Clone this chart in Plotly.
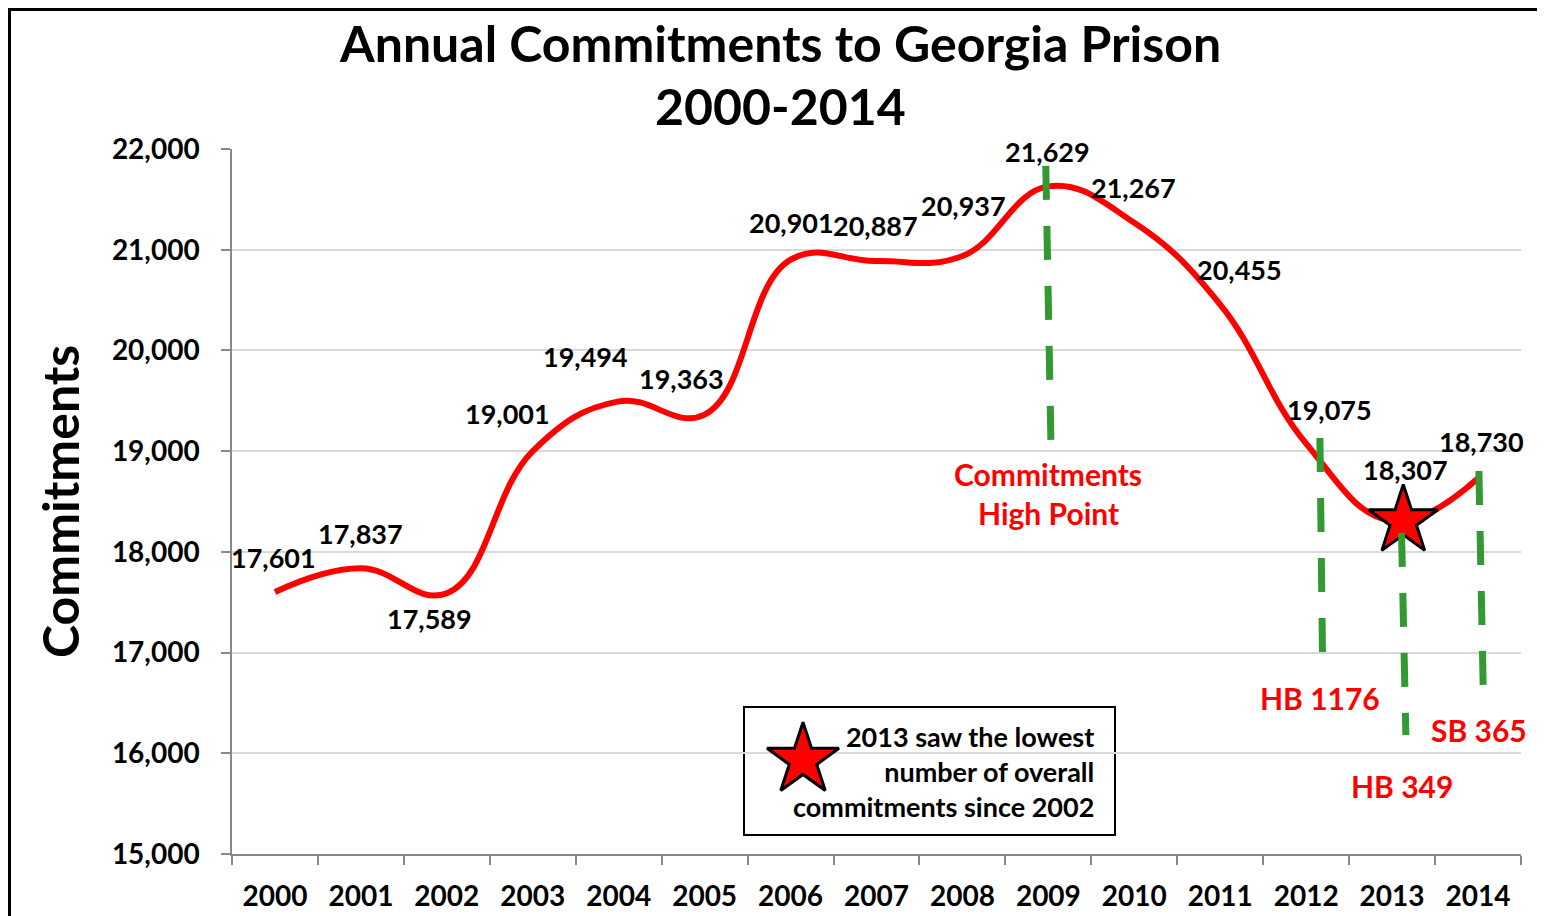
import plotly.graph_objects as go

# ---- data ----
years = [str(y) for y in range(2000, 2015)]
commitments = [17601, 17837, 17589, 19001, 19494, 19363, 20901, 20887,
               20937, 21629, 21267, 20455, 19075, 18307, 18730]
y_ticks = [15000, 16000, 17000, 18000, 19000, 20000, 21000, 22000]

# data-label offsets in pixels (dx, dy)
label_dx = [-1, 0, -17, -25, -33, -23, 1, -1, 1, -1, -1, 19, 23, 13, 3]
label_dy = [35, 35, -25, 38, 45, 36, 37, 36, 51, 35, 35, 35, 34, 51, 37]

# policy markers: (year index, x offset top, x offset bottom, y top, y bottom)
markers = [
    (9, -0.03, 0.03, 21832, 19081),
    (12, 0.16, 0.19, 19131, 16976),
    (13, 0.11, 0.16, 18188, 16182),
    (14, 0.01, 0.06, 18803, 16658),
]

# page offset of the plot div (browser body margin)
O = 8
W, H = 1545 - O, 916 - O
L, R, T, B = 232 - O, 24, 149 - O, 62
PW, PH = W - L - R, H - T - B


def px_x(p):
    return (p - O - L) / PW


def px_y(p):
    return (H - B - (p - O)) / PH


FONT = "Lato"
GRAY = "#898989"
GREEN = "#339933"

fig = go.Figure()

xs = list(range(len(years)))
fig.add_trace(go.Scatter(
    x=xs, y=commitments, mode="lines",
    line=dict(color="#ff0000", width=6, shape="spline", smoothing=1.2),
    hoverinfo="skip", showlegend=False,
))

# star at the 2013 low point
i13 = years.index("2013")
fig.add_trace(go.Scatter(
    x=[i13 + 0.13], y=[commitments[i13]], mode="markers",
    marker=dict(symbol="star", size=52, color="#ff0000",
                line=dict(color="black", width=3)),
    hoverinfo="skip", showlegend=False,
))

# star inside the note box (overlay axis in paper-like units)
fig.add_trace(go.Scatter(
    x=[px_x(803)], y=[px_y(760)], xaxis="x2", yaxis="y2", mode="markers",
    marker=dict(symbol="star", size=54, color="#ff0000",
                line=dict(color="black", width=3)),
    hoverinfo="skip", showlegend=False,
))

annotations = []
for i, v in enumerate(commitments):
    annotations.append(dict(
        x=i, y=v, xref="x", yref="y", text=f"{v:,}", showarrow=False,
        xshift=label_dx[i], yshift=label_dy[i],
        font=dict(family=FONT, size=27, color="black", weight="bold"),
    ))

# titles
annotations.append(dict(
    x=px_x(780), y=px_y(43), xref="paper", yref="paper",
    text="Annual Commitments to Georgia Prison", showarrow=False,
    xanchor="center", yanchor="middle",
    font=dict(family=FONT, size=50, color="black", weight="bold")))
annotations.append(dict(
    x=px_x(780), y=px_y(106), xref="paper", yref="paper",
    text="2000-2014", showarrow=False, xanchor="center", yanchor="middle",
    font=dict(family=FONT, size=50, color="black", weight="bold")))
annotations.append(dict(
    x=px_x(60), y=px_y(502), xref="paper", yref="paper",
    text="Commitments", showarrow=False, textangle=-90,
    xanchor="center", yanchor="middle",
    font=dict(family=FONT, size=50, color="black", weight="bold")))

# red notes
red_notes = [("Commitments", 1048, 474), ("High Point", 1048, 513),
             ("HB 1176", 1320, 698), ("HB 349", 1402, 786),
             ("SB 365", 1479, 730)]
for txt, cx, cy in red_notes:
    annotations.append(dict(
        x=px_x(cx), y=px_y(cy), xref="paper", yref="paper", text=txt,
        showarrow=False, xanchor="center", yanchor="middle",
        font=dict(family=FONT, size=30, color="#ff0000", weight="bold")))

# box text
annotations.append(dict(
    x=px_x(1096), y=px_y(771), xref="paper", yref="paper",
    text="2013 saw the lowest<br>number of overall<br>commitments since 2002",
    showarrow=False, xanchor="right", yanchor="middle", align="right",
    font=dict(family=FONT, size=27, color="black", weight="bold")))

shapes = []
for idx, dx0, dx1, yt, yb in markers:
    shapes.append(dict(
        type="line", xref="x", yref="y", x0=idx + dx0, x1=idx + dx1,
        y0=yt, y1=yb, layer="above",
        line=dict(color=GREEN, width=7, dash="34px,26px")))

shapes.append(dict(
    type="rect", xref="paper", yref="paper",
    x0=px_x(744), x1=px_x(1115), y0=px_y(835), y1=px_y(707),
    line=dict(color="black", width=2), fillcolor="white", layer="between"))

shapes.append(dict(
    type="rect", xref="paper", yref="paper",
    x0=px_x(9.5), x1=px_x(1580), y0=px_y(960), y1=px_y(9.5),
    line=dict(color="black", width=3), fillcolor="rgba(0,0,0,0)",
    layer="above"))

fig.update_layout(
    width=W, height=H,
    margin=dict(l=L, r=R, t=T, b=B, pad=0, autoexpand=False),
    paper_bgcolor="white", plot_bgcolor="white",
    showlegend=False,
    xaxis=dict(
        range=[-0.5, len(years) - 0.5], tickvals=xs, ticktext=years,
        ticks="", showline=True, linecolor=GRAY, linewidth=1.5,
        showgrid=False, zeroline=False, ticklabelstandoff=17,
        automargin=False,
        tickfont=dict(family=FONT, size=28, color="black", weight="bold"),
        minor=dict(tickvals=[i - 0.5 for i in range(len(years) + 1)],
                   ticks="outside", ticklen=9, tickcolor=GRAY, tickwidth=1.5,
                   showgrid=False),
        fixedrange=True,
    ),
    yaxis=dict(
        range=[15000, 22000], tickvals=y_ticks, tickformat=",",
        ticks="outside", ticklen=9, tickcolor=GRAY, tickwidth=1.5,
        showline=True, linecolor=GRAY, linewidth=1.5,
        showgrid=True, gridcolor="#d9d9d9", gridwidth=1.5, zeroline=False,
        ticklabelstandoff=16, automargin=False,
        tickfont=dict(family=FONT, size=28, color="black", weight="bold"),
        fixedrange=True,
    ),
    xaxis2=dict(range=[0, 1], overlaying="x", visible=False, fixedrange=True),
    yaxis2=dict(range=[0, 1], overlaying="y", visible=False, fixedrange=True),
    annotations=annotations,
    shapes=shapes,
)

fig.write_html("out.html")
